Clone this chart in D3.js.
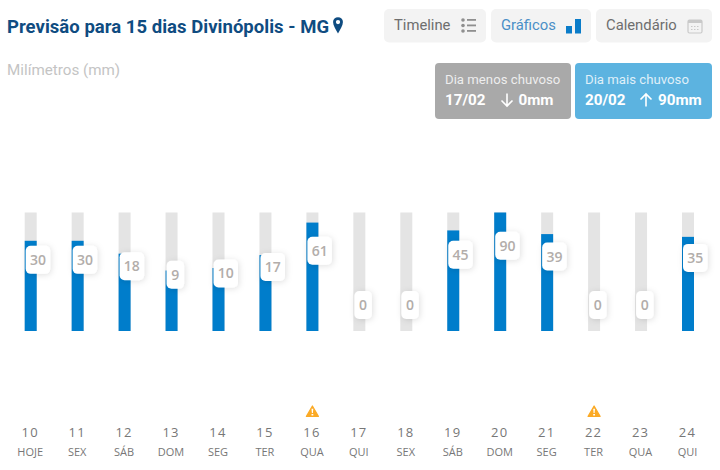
<!DOCTYPE html>
<html lang="pt-BR">
<head>
<meta charset="utf-8">
<title>Previsão para 15 dias</title>
<script src="https://cdn.jsdelivr.net/npm/d3@7"></script>
<style>
  html, body { margin: 0; padding: 0; background: #fff; }
  svg { display: block; }
  text { font-family: Roboto, sans-serif; }
  .open { font-family: "Open Sans", sans-serif; }
</style>
</head>
<body>
<svg id="chart" width="720" height="470"></svg>
<script>
// Forecast data: day of month, weekday, rainfall in millimetres
const days = ["10","11","12","13","14","15","16","17","18","19","20","21","22","23","24"];
const weekdays = ["HOJE","SEX","SÁB","DOM","SEG","TER","QUA","QUI","SEX","SÁB","DOM","SEG","TER","QUA","QUI"];
const rainfall = [30,30,18,9,10,17,61,0,0,45,90,39,0,0,35];
const alertDays = ["16","22"];
const month = "02";
const maxRain = 90;

const svg = d3.select("#chart");
const defs = svg.append("defs");
const shadow = defs.append("filter").attr("id", "soft")
  .attr("x", "-40%").attr("y", "-40%").attr("width", "180%").attr("height", "180%");
shadow.append("feDropShadow").attr("dx", 1).attr("dy", 1).attr("stdDeviation", 3)
  .attr("flood-color", "#000").attr("flood-opacity", 0.13);

const x = d3.scalePoint().domain(days).range([30.7, 688]);
const y = d3.scaleSymlog().constant(1).domain([0, maxRain]).range([331, 212.5]);
// Value badges ride at half the bar's height above a raised baseline
const badgeY = d3.scaleSymlog().constant(1).domain([0, maxRain]).range([305, 245.7]);
const barW = 12;

// Header
svg.append("text").attr("x", 7).attr("y", 33)
  .attr("font-size", 18.5).attr("font-weight", 700).attr("fill", "#0f4c81")
  .attr("letter-spacing", 0.03)
  .text("Previsão para 15 dias Divinópolis - MG");
svg.append("path")
  .attr("transform", "translate(338,25) scale(1.12)")
  .attr("fill-rule", "evenodd").attr("fill", "#0f4c81")
  .attr("d", "M0,7.5 C-2,4 -4.4,0.8 -4.4,-2.6 A4.4,4.4 0 0 1 4.4,-2.6 C4.4,0.8 2,4 0,7.5 Z M0,-4.5 A1.9,1.9 0 1 0 0,-0.7 A1.9,1.9 0 1 0 0,-4.5 Z");
svg.append("text").attr("x", 7).attr("y", 75)
  .attr("font-size", 15.2).attr("fill", "#c4c4c4").text("Milímetros (mm)");

// View selector
const tabs = [
  { label: "Timeline", x0: 384, x1: 486, color: "#6e6e6e" },
  { label: "Gráficos", x0: 491, x1: 591, color: "#4a8fc7" },
  { label: "Calendário", x0: 596, x1: 712, color: "#6e6e6e" }
];
const tab = svg.selectAll("g.tab").data(tabs).join("g").attr("class", "tab");
tab.append("rect").attr("x", d => d.x0).attr("y", 9).attr("width", d => d.x1 - d.x0)
  .attr("height", 33.5).attr("rx", 5).attr("fill", "#f3f3f3");
tab.append("text").attr("x", d => d.x0 + 10).attr("y", 30)
  .attr("font-size", 14.8).attr("fill", d => d.color).text(d => d.label);

// Timeline icon
const list = svg.append("g").attr("fill", "#8f8f8f");
[20, 25.5, 31].forEach(cy => {
  list.append("circle").attr("cx", 463).attr("cy", cy).attr("r", 1.8);
  list.append("rect").attr("x", 467).attr("y", cy - 1).attr("width", 9).attr("height", 1.8);
});
// Bars icon
svg.append("rect").attr("x", 566).attr("y", 26).attr("width", 6).attr("height", 7.5).attr("fill", "#0a7cc9");
svg.append("rect").attr("x", 575).attr("y", 19).attr("width", 6).attr("height", 14.5).attr("fill", "#0a7cc9");
// Calendar icon
const cal = svg.append("g").attr("fill", "none").attr("stroke", "#c9c9c9");
cal.append("rect").attr("x", 688).attr("y", 20).attr("width", 14).attr("height", 13).attr("rx", 1.5).attr("stroke-width", 1.2);
cal.append("rect").attr("x", 688).attr("y", 20).attr("width", 14).attr("height", 3).attr("fill", "#c9c9c9").attr("stroke", "none");
cal.append("path").attr("d", "M691,26.5h8M691,29.5h8").attr("stroke-dasharray", "1.5 1.5").attr("stroke-width", 1);

// Summary cards built from the series
const minRain = d3.min(rainfall), topRain = d3.max(rainfall);
const cards = [
  { title: "Dia menos chuvoso", x0: 435, x1: 571, fill: "#a9a9a9", value: minRain, day: days[rainfall.indexOf(minRain)], up: false },
  { title: "Dia mais chuvoso", x0: 575, x1: 712, fill: "#5cb3e0", value: topRain, day: days[rainfall.indexOf(topRain)], up: true }
];
const card = svg.selectAll("g.card").data(cards).join("g").attr("class", "card");
card.append("rect").attr("x", d => d.x0).attr("y", 63).attr("width", d => d.x1 - d.x0)
  .attr("height", 56).attr("rx", 4).attr("fill", d => d.fill);
card.append("text").attr("x", d => d.x0 + 10).attr("y", 84)
  .attr("font-size", 13.2).attr("fill", "#fff").attr("fill-opacity", 0.82).text(d => d.title);
card.append("text").attr("x", d => d.x0 + 10).attr("y", 105)
  .attr("font-size", 15.2).attr("font-weight", 700).attr("fill", "#fff")
  .text(d => `${d.day}/${month}`);
card.append("text").attr("x", d => d.up ? 658 : 518.5).attr("y", 105)
  .attr("font-size", 15.2).attr("font-weight", 700).attr("fill", "#fff")
  .text(d => `${d.value}mm`);
card.append("path")
  .attr("transform", d => `translate(${d.up ? 646 : 507},100) scale(1,${d.up ? -1 : 1})`)
  .attr("fill", "none").attr("stroke", "#fff").attr("stroke-width", 1.6)
  .attr("d", "M0,-6.5V6M-5.5,0.5L0,6L5.5,0.5");

// Tracks and bars
const plot = svg.append("g");
plot.selectAll("rect.track").data(rainfall).join("rect").attr("class", "track")
  .attr("x", (d, i) => x(days[i]) - barW / 2).attr("width", barW)
  .attr("y", y(maxRain)).attr("height", y(0) - y(maxRain)).attr("fill", "#e4e4e4");
plot.selectAll("rect.bar").data(rainfall).join("rect").attr("class", "bar")
  .attr("x", (d, i) => x(days[i]) - barW / 2).attr("width", barW)
  .attr("y", d => y(d)).attr("height", d => y(0) - y(d)).attr("fill", "#007dcb");

// Value badges
const badge = plot.selectAll("g.badge").data(rainfall).join("g").attr("class", "badge")
  .attr("transform", (d, i) => `translate(${x(days[i]) - barW / 2 + 1},${badgeY(d)})`);
const badgeW = d => d >= 10 ? 24.5 : 17.5;
badge.append("rect").attr("x", 0).attr("y", -14).attr("width", badgeW).attr("height", 28)
  .attr("rx", 5).attr("fill", "#fff").attr("filter", "url(#soft)");
badge.append("text").attr("class", "open").attr("x", d => badgeW(d) / 2).attr("y", 5)
  .attr("text-anchor", "middle").attr("font-size", 14).attr("font-weight", 600)
  .attr("fill", "#b2adaa").text(d => d);

// Day axis
const axis = svg.append("g");
axis.selectAll("text.day").data(days).join("text").attr("class", "day open")
  .attr("x", d => x(d) - 0.5).attr("y", 437).attr("text-anchor", "middle")
  .attr("font-size", 13).attr("letter-spacing", 1.2).attr("fill", "#777").text(d => d);
axis.selectAll("text.wd").data(weekdays).join("text").attr("class", "wd open")
  .attr("x", (d, i) => x(days[i]) - 0.5).attr("y", 456).attr("text-anchor", "middle")
  .attr("font-size", 11).attr("fill", "#777").text(d => d);

// Weather alerts above flagged days
const alert = svg.selectAll("g.alert").data(alertDays).join("g").attr("class", "alert")
  .attr("transform", d => `translate(${x(d)},0)`);
alert.append("path").attr("fill", "#fbaa26").attr("stroke", "#fbaa26").attr("stroke-width", 1.2)
  .attr("stroke-linejoin", "round").attr("d", "M0,406L6,416.4H-6Z");
alert.append("path").attr("fill", "#fff").attr("d", "M-0.9,408.8H0.9L0.5,413H-0.5ZM-0.9,414H0.9V415.6H-0.9Z");
</script>
</body>
</html>
